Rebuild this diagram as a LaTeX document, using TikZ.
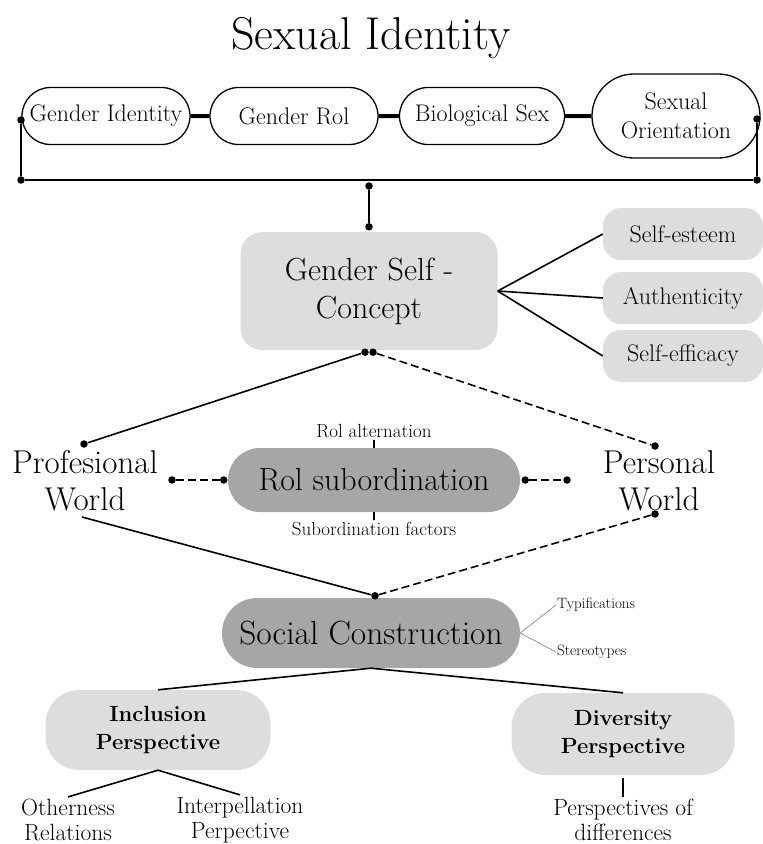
\documentclass[tikz,border=0pt]{standalone}
\usepackage{fontspec}
\usepackage{tikz}
\usetikzlibrary{positioning,shapes.misc}
\definecolor{lightgrey}{HTML}{DDDDDD}
\definecolor{darkgrey}{HTML}{A6A6A6}
\tikzset{
  pill/.style={draw=black, line width=1.3pt, rounded rectangle, align=center, inner sep=0pt, minimum width=168pt, minimum height=57pt, font=\fontsize{24}{29}\selectfont},
  conceptbox/.style={fill=lightgrey, rounded corners=22pt, align=center, inner sep=0pt, font=\fontsize{32}{38}\selectfont},
  sidebox/.style={fill=lightgrey, rounded corners=18pt, align=center, inner sep=0pt, minimum width=160pt, minimum height=52pt, font=\fontsize{24}{28}\selectfont},
  darkpill/.style={fill=darkgrey, rounded rectangle, align=center, inner sep=0pt},
  persbox/.style={fill=lightgrey, rounded corners=34pt, align=center, inner sep=0pt, font=\bfseries\fontsize{22}{28}\selectfont},
  world/.style={align=center, inner sep=0pt, font=\fontsize{33}{37}\selectfont},
  smalltxt/.style={align=center, inner sep=2pt, font=\fontsize{19}{22}\selectfont},
  tinytxt/.style={inner sep=1pt, font=\fontsize{15}{17}\selectfont},
  leaftxt/.style={align=center, inner sep=2pt, font=\fontsize{23.5}{25}\selectfont},
  dot/.style={circle, fill=black, minimum size=7.5pt, inner sep=0pt},
  link/.style={line width=1.6pt},
  dashlink/.style={line width=1.6pt, dashed, dash pattern=on 8pt off 4pt},
  thicklink/.style={line width=4pt},
  thinlink/.style={line width=0.7pt, draw=black!45}
}
\begin{document}
\begin{tikzpicture}[x=1pt,y=-1pt]
\useasboundingbox (0,0) rectangle (763,844);
\node[font=\fontsize{46}{50}\selectfont] (title) at (371,38) {Sexual Identity};
% top row
\node[pill] (genid) at (106,116) {Gender Identity};
\node[pill] (genrol) at (294,116) {Gender Rol};
\node[pill, minimum width=165pt] (biosex) at (482,116) {Biological Sex};
\node[pill, minimum height=84pt] (sexor) at (676,116) {Sexual\\Orientation};
\draw[thicklink] (genid) -- (genrol);
\draw[thicklink] (genrol) -- (biosex);
\draw[thicklink] (biosex) -- (sexor);
\node[dot] (bl) at (21,180) {};
\node[dot] (br) at (757,180) {};
\node[dot] (gl) at (21,120) {};
\node[dot] (sr) at (757,119) {};
\draw[link] (gl) -- (bl) -- (br) -- (sr);
% self concept
\node[conceptbox, minimum width=257pt, minimum height=118pt] (concept) at (369,291) {Gender Self -\\Concept};
\node[dot] (bm) at (369,186) {};
\node[dot] (ctop) at ([yshift=5pt]concept.north) {};
\draw[link] (bm) -- (ctop);
\node[sidebox] (esteem) at (683,234) {Self-esteem};
\node[sidebox] (authen) at (683,298) {Authenticity};
\node[sidebox] (efficacy) at (683,356) {Self-efficacy};
\foreach \b in {esteem,authen,efficacy}
  \draw[link] (concept.east) -- (\b.west);
\node[dot] (cbl) at ([xshift=-4pt,yshift=-2pt]concept.south) {};
\node[dot] (cbr) at ([xshift=4pt,yshift=-2pt]concept.south) {};
% worlds
\node[world] (prof) at (85,481) {Profesional\\World};
\node[world] (pers) at (659,481) {Personal\\World};
\node[dot] (profup) at (84,444) {};
\node[dot] (persup) at (655,446) {};
\draw[link] (cbl) -- (profup);
\draw[dashlink] (cbr) -- (persup);
\node[darkpill, minimum width=292pt, minimum height=64pt, font=\fontsize{32}{36}\selectfont] (rolsub) at (374,480) {Rol subordination};
\node[smalltxt, above=8pt of rolsub] (alt) {Rol alternation};
\node[smalltxt, below=8pt of rolsub] (factors) {Subordination factors};
\draw[link] (alt) -- (rolsub);
\draw[link] (factors) -- (rolsub);
\node[dot] (rl1) at (172,480) {};
\node[dot] (rl2) at ([xshift=-4pt]rolsub.west) {};
\node[dot] (rr1) at ([xshift=5pt]rolsub.east) {};
\node[dot] (rr2) at (567,480) {};
\draw[dashlink] (rl1) -- (rl2);
\draw[dashlink] (rr1) -- (rr2);
% social construction
\node[darkpill, minimum width=298pt, minimum height=70pt, font=\fontsize{33.5}{38}\selectfont] (social) at (371,633) {Social Construction};
\node[dot] (stop) at ([xshift=4pt,yshift=2pt]social.north) {};
\node[dot] (persdown) at (655,514) {};
\coordinate (profdown) at (82,517);
\draw[link] (profdown) -- (stop);
\draw[dashlink] (persdown) -- (stop);
\node[tinytxt, anchor=west] (typif) at (556,605) {Typifications};
\node[tinytxt, anchor=west] (stereo) at (556,652) {Stereotypes};
\draw[thinlink] (social.east) -- (typif.west);
\draw[thinlink] (social.east) -- (stereo.west);
% perspectives
\node[persbox, minimum width=225pt, minimum height=80pt] (incl) at (158,730) {Inclusion\\Perspective};
\node[persbox, minimum width=223pt, minimum height=82pt] (divers) at (623,734) {Diversity\\Perspective};
\draw[link] (social.south) -- (incl.north);
\draw[link] (social.south) -- (divers.north);
\node[leaftxt] (other) at (68,820) {Otherness\\Relations};
\node[leaftxt] (interp) at (240,820) {Interpellation\\Perpective};
\node[leaftxt] (diffs) at (623,820) {Perspectives of\\differences};
\draw[link] (incl.south) -- (other.north);
\draw[link] (incl.south) -- (interp.north);
\draw[link] ([yshift=-3pt]divers.south) -- (diffs.north);
\end{tikzpicture}
\end{document}
